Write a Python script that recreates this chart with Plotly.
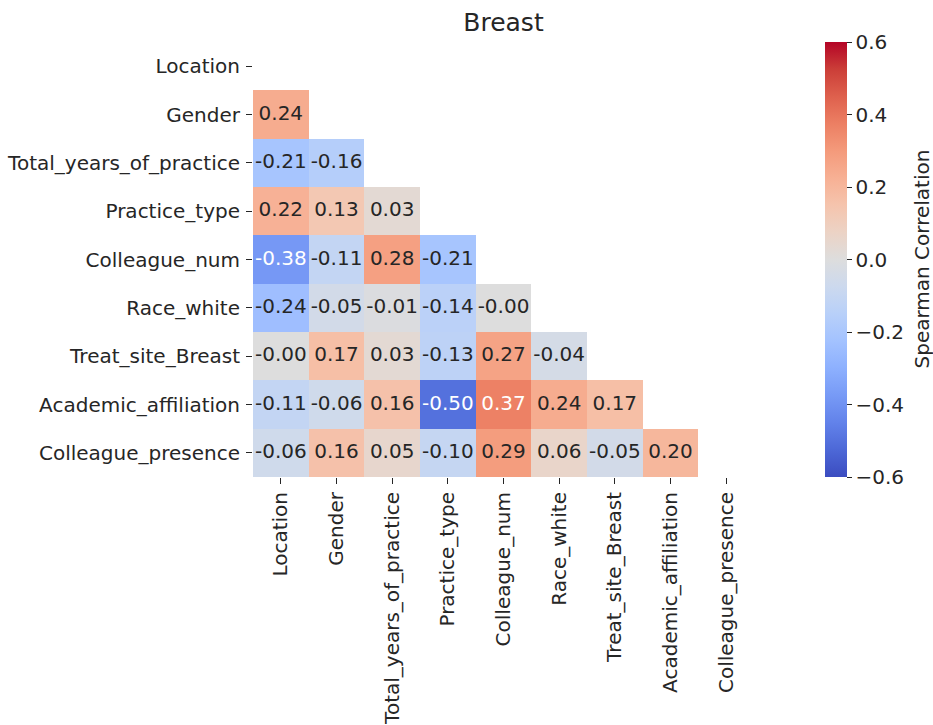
import plotly.graph_objects as go

labels = ["Location", "Gender", "Total_years_of_practice", "Practice_type",
          "Colleague_num", "Race_white", "Treat_site_Breast",
          "Academic_affiliation", "Colleague_presence"]

# lower-triangle Spearman correlations (row i, columns 0..i-1)
row_gender = [0.24]
row_total_years = [-0.21, -0.16]
row_practice_type = [0.22, 0.13, 0.03]
row_colleague_num = [-0.38, -0.11, 0.28, -0.21]
row_race_white = [-0.24, -0.05, -0.01, -0.14, -0.0]
row_treat_site = [-0.0, 0.17, 0.03, -0.13, 0.27, -0.04]
row_academic = [-0.11, -0.06, 0.16, -0.50, 0.37, 0.24, 0.17]
row_colleague_presence = [-0.06, 0.16, 0.05, -0.10, 0.29, 0.06, -0.05, 0.20]

rows = [[], row_gender, row_total_years, row_practice_type, row_colleague_num,
        row_race_white, row_treat_site, row_academic, row_colleague_presence]

n = len(labels)
z = []
for i in range(n):
    z.append([rows[i][j] if j < len(rows[i]) else None for j in range(n)])

coolwarm = [
    [0.0, "rgb(59,76,192)"],
    [0.0625, "rgb(77,104,215)"],
    [0.125, "rgb(98,130,234)"],
    [0.1875, "rgb(119,154,246)"],
    [0.25, "rgb(141,176,254)"],
    [0.3125, "rgb(163,194,255)"],
    [0.375, "rgb(184,208,249)"],
    [0.4375, "rgb(204,217,238)"],
    [0.5, "rgb(221,221,221)"],
    [0.5625, "rgb(236,211,197)"],
    [0.625, "rgb(245,196,173)"],
    [0.6875, "rgb(247,176,148)"],
    [0.75, "rgb(244,154,123)"],
    [0.8125, "rgb(236,127,99)"],
    [0.875, "rgb(222,96,77)"],
    [0.9375, "rgb(203,62,56)"],
    [1.0, "rgb(180,4,38)"],
]

xs, ys, texts, colors = [], [], [], []
for i in range(n):
    for j, v in enumerate(rows[i]):
        xs.append(j)
        ys.append(i)
        texts.append(f"{v:.2f}")
        colors.append("white" if abs(v) >= 0.35 else "#262626")

FONT = "DejaVu Sans"
FS = 20.0
TXT = "#262626"
W, H = 933, 725
L, R, T, B = 253, 754, 42, 477

fig = go.Figure()
fig.add_trace(go.Heatmap(
    z=z, x=list(range(n)), y=list(range(n)),
    zmin=-0.6, zmax=0.6, colorscale=coolwarm,
    hoverongaps=False,
    colorbar=dict(
        thickness=22, len=1.0, lenmode="fraction", y=0.5, yanchor="middle",
        x=(825 - L) / (R - L), xanchor="left", xpad=0, ypad=0, outlinewidth=0,
        tickvals=[-0.6, -0.4, -0.2, 0.0, 0.2, 0.4, 0.6],
        ticktext=["\u22120.6", "\u22120.4", "\u22120.2", "0.0", "0.2", "0.4", "0.6"],
        ticks="outside", ticklen=5, tickcolor=TXT, tickwidth=1,
        tickfont=dict(family=FONT, size=FS, color=TXT),
    ),
))
fig.add_trace(go.Scatter(
    x=xs, y=ys, mode="text", text=texts,
    textfont=dict(family=FONT, size=FS, color=colors),
    hoverinfo="skip", showlegend=False,
))
fig.update_layout(
    width=W, height=H,
    margin=dict(l=L, r=W - R, t=T, b=H - B, autoexpand=False),
    paper_bgcolor="white", plot_bgcolor="white",
    title=dict(text="Breast", x=(L + R) / 2 / W, xanchor="center",
               y=1 - 22 / H, yanchor="middle",
               font=dict(family=FONT, size=25, color=TXT)),
    showlegend=False,
    annotations=[dict(
        text="Spearman Correlation", textangle=-90,
        xref="paper", yref="paper",
        x=(921 - L) / (R - L), y=0.5, xanchor="center", yanchor="middle",
        showarrow=False, font=dict(family=FONT, size=FS, color=TXT),
    )],
)
fig.update_xaxes(
    range=[-0.5, n - 0.5], tickvals=list(range(n)), ticktext=labels,
    tickangle=-90, ticks="outside", ticklen=6, tickcolor=TXT,
    ticklabelstandoff=0, automargin=False,
    showgrid=False, zeroline=False, showline=False,
    tickfont=dict(family=FONT, size=FS, color=TXT),
)
fig.update_yaxes(
    range=[n - 0.5, -0.5], tickvals=list(range(n)), ticktext=labels,
    ticks="outside", ticklen=6, tickcolor=TXT,
    ticklabelstandoff=2, automargin=False,
    showgrid=False, zeroline=False, showline=False,
    tickfont=dict(family=FONT, size=FS, color=TXT),
)
fig.write_html(
    "out.html",
    config={"displayModeBar": False},
    post_script="document.body.style.margin='0';document.body.style.overflow='hidden';",
)
